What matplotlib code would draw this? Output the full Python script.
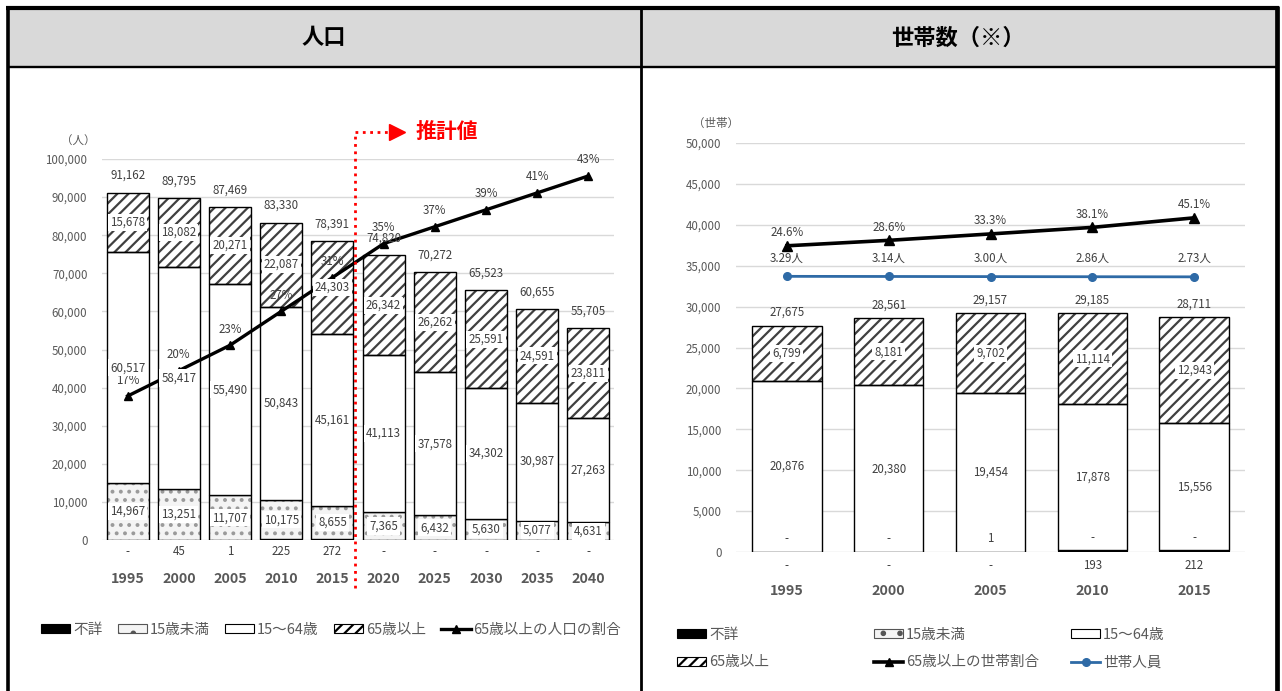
import numpy as np
import matplotlib.pyplot as plt
import matplotlib.patches as mpatches
import matplotlib.transforms as mtransforms
from matplotlib.lines import Line2D

plt.rcParams['font.family'] = ['Noto Sans CJK JP', 'DejaVu Sans']
plt.rcParams['hatch.linewidth'] = 1.6

W, H = 1282, 691

# 人口
pop_years = ['1995', '2000', '2005', '2010', '2015', '2020', '2025', '2030', '2035', '2040']
pop_unknown = [0, 45, 1, 225, 272, 0, 0, 0, 0, 0]
pop_under15 = [14967, 13251, 11707, 10175, 8655, 7365, 6432, 5630, 5077, 4631]
pop_15_64 = [60517, 58417, 55490, 50843, 45161, 41113, 37578, 34302, 30987, 27263]
pop_65over = [15678, 18082, 20271, 22087, 24303, 26342, 26262, 25591, 24591, 23811]
pop_ratio = [17, 20, 23, 27, 31, 35, 37, 39, 41, 43]

# 世帯数
hh_years = ['1995', '2000', '2005', '2010', '2015']
hh_unknown = [0, 0, 0, 193, 212]
hh_under15 = [0, 0, 1, 0, 0]
hh_15_64 = [20876, 20380, 19454, 17878, 15556]
hh_65over = [6799, 8181, 9702, 11114, 12943]
hh_ratio = [24.6, 28.6, 33.3, 38.1, 45.1]
hh_persons = [3.29, 3.14, 3.00, 2.86, 2.73]

GRAY = '#595959'
LBL = '#404040'
BLUE = '#2e6aa6'
UNDER_FC = '#f4f4f4'
DOTS = '#9a9a9a'


def fmt(v):
    return f'{v:,}' if v else '-'


def px_box(left, top, right, bottom):
    return [left / W, 1 - bottom / H, (right - left) / W, (bottom - top) / H]


fig = plt.figure(figsize=(W / 100, H / 100), dpi=100)

# table frame and header band
fig.add_artist(mpatches.Rectangle((8 / W, 1 - 67 / H), 1268 / W, 58 / H,
                                  transform=fig.transFigure, facecolor='#d9d9d9',
                                  edgecolor='none', zorder=0))
for xs, ys, lw in [((6, 1279), (8, 8), 3.0),
                   ((7.8, 7.8), (6, 691), 2.6),
                   ((1276.5, 1276.5), (6, 691), 3.4),
                   ((640.5, 640.5), (8, 691), 2.0),
                   ((8, 1276), (67.3, 67.3), 1.7)]:
    fig.add_artist(Line2D([x / W for x in xs], [1 - y / H for y in ys],
                          transform=fig.transFigure, color='black', lw=lw,
                          solid_capstyle='butt'))
fig.text(324 / W, 1 - 38 / H, '人口', ha='center', va='center', fontsize=16,
         fontweight='bold', color='black')
fig.text(958 / W, 1 - 38 / H, '世帯数（※）', ha='center', va='center', fontsize=16,
         fontweight='bold', color='black')


def style_axes(ax, ymax, step, years):
    ax.set_ylim(0, ymax)
    ax.set_xlim(-0.5, len(years) - 0.5)
    ax.set_yticks(np.arange(0, ymax + 1, step))
    ax.set_yticklabels([f'{int(v):,}' for v in np.arange(0, ymax + 1, step)])
    ax.set_xticks(np.arange(len(years)))
    ax.set_xticklabels(years, fontweight='bold', fontsize=10.3, color=GRAY)
    ax.tick_params(axis='y', length=0, labelsize=8.3, labelcolor=GRAY, pad=10.5)
    ax.tick_params(axis='x', length=0, pad=23)
    for s in ax.spines.values():
        s.set_visible(False)
    ax.yaxis.grid(True, color='#d9d9d9', lw=1.0)
    ax.set_axisbelow(True)


def draw_stack(ax, x, w, unknown, under15, mid, old):
    unknown = np.array(unknown)
    under15 = np.array(under15)
    mid = np.array(mid)
    old = np.array(old)
    ax.bar(x, unknown, w, color='black', edgecolor='black', lw=0.8, zorder=2)
    base = unknown.copy()
    ax.bar(x, under15, w, bottom=base, facecolor=UNDER_FC, edgecolor=DOTS,
           hatch='..', lw=0, zorder=2)
    ax.bar(x, under15, w, bottom=base, fill=False, edgecolor='black', lw=1.0, zorder=3)
    base = base + under15
    ax.bar(x, mid, w, bottom=base, facecolor='white', edgecolor='black', lw=1.0, zorder=3)
    base = base + mid
    ax.bar(x, old, w, bottom=base, facecolor='white', edgecolor='#404040',
           hatch='///', lw=0, zorder=2)
    ax.bar(x, old, w, bottom=base, fill=False, edgecolor='black', lw=1.0, zorder=3)


box = dict(boxstyle='square,pad=0.18', fc='white', ec='none')

# ---- 人口 ----
ax1 = fig.add_axes(px_box(102, 159, 614, 540))
x1 = np.arange(len(pop_years))
style_axes(ax1, 100000, 10000, pop_years)
draw_stack(ax1, x1, 0.82, pop_unknown, pop_under15, pop_15_64, pop_65over)

ax1b = ax1.twinx()
ax1b.set_ylim(0, 45)
ax1b.set_axis_off()
ax1b.plot(x1, pop_ratio, color='black', lw=2.4, marker='^', ms=6, zorder=2)
for xi, r in zip(x1, pop_ratio):
    ax1b.annotate(f'{r}%', (xi, r), xytext=(0, 11.5), textcoords='offset points',
                  ha='center', va='center', fontsize=8.3, color=LBL, zorder=3)

t1 = ax1.transData
for i in x1:
    u, a, m, o = pop_unknown[i], pop_under15[i], pop_15_64[i], pop_65over[i]
    ax1b.text(i, u + a / 2, fmt(a), transform=t1, ha='center', va='center',
              fontsize=8.3, color=LBL, bbox=box, zorder=5)
    ax1b.text(i, u + a + m / 2, fmt(m), transform=t1, ha='center', va='center',
              fontsize=8.3, color=LBL, bbox=box, zorder=5)
    ax1b.text(i, u + a + m + o / 2, fmt(o), transform=t1, ha='center', va='center',
              fontsize=8.3, color=LBL, bbox=box, zorder=5)
    total = u + a + m + o
    ax1b.annotate(fmt(total), (i, total), xycoords=t1, xytext=(0, 12.3),
                  textcoords='offset points', ha='center', va='center',
                  fontsize=8.3, color=LBL, zorder=5)
    ax1b.annotate(fmt(u), (i, 0), xycoords=t1, xytext=(0, -8),
                  textcoords='offset points', ha='center', va='center',
                  fontsize=8.3, color=LBL, zorder=5)

# 推計値 marker between 2015 and 2020
blend = mtransforms.blended_transform_factory(ax1.transData, ax1.transAxes)
ax1b.plot([4.45, 4.45], [-0.126, 1.071], transform=blend, color='red', lw=2.0,
          ls=':', clip_on=False, zorder=6)
ax1b.plot([4.45, 5.1], [1.071, 1.071], transform=blend, color='red', lw=2.0,
          ls=':', clip_on=False, zorder=6)
ax1b.plot([5.27], [1.071], transform=blend, color='red', marker='>', ms=11,
          ls='none', clip_on=False, zorder=6)
ax1b.text(5.62, 1.071, '推計値', transform=blend, ha='left', va='center',
          fontsize=15, fontweight='bold', color='red', zorder=6)

fig.text(78 / W, 1 - 141 / H, '（人）', ha='center', va='center', fontsize=8.3, color=GRAY)

# ---- 世帯数 ----
ax2 = fig.add_axes(px_box(736, 143, 1245, 552))
x2 = np.arange(len(hh_years))
style_axes(ax2, 50000, 5000, hh_years)
draw_stack(ax2, x2, 0.68, hh_unknown, hh_under15, hh_15_64, hh_65over)

ax2b = ax2.twinx()
ax2b.set_ylim(-200, 100)
ax2b.set_axis_off()
ax2b.plot(x2, hh_ratio, color='black', lw=2.6, marker='^', ms=6.5, zorder=2)
for xi, r in zip(x2, hh_ratio):
    ax2b.annotate(f'{r:.1f}%', (xi, r), xytext=(0, 9.5), textcoords='offset points',
                  ha='center', va='center', fontsize=8.3, color=LBL, zorder=3)

ax2c = ax2.twinx()
ax2c.set_ylim(-300, 150)
ax2c.set_axis_off()
ax2c.plot(x2, hh_persons, color=BLUE, lw=2.0, marker='o', ms=5.5, zorder=2)
for xi, p in zip(x2, hh_persons):
    ax2c.annotate(f'{p:.2f}人', (xi, p), xytext=(0, 13), textcoords='offset points',
                  ha='center', va='center', fontsize=8.3, color=LBL, zorder=3)

t2 = ax2.transData
for i in x2:
    u, a, m, o = hh_unknown[i], hh_under15[i], hh_15_64[i], hh_65over[i]
    ax2c.annotate(fmt(a), (i, u), xycoords=t2, xytext=(0, 9.5),
                  textcoords='offset points', ha='center', va='center',
                  fontsize=8.3, color=LBL, zorder=5)
    ax2c.text(i, u + a + m / 2, fmt(m), transform=t2, ha='center', va='center',
              fontsize=8.3, color=LBL, zorder=5)
    ax2c.text(i, u + a + m + o / 2, fmt(o), transform=t2, ha='center', va='center',
              fontsize=8.3, color=LBL, bbox=box, zorder=5)
    total = u + a + m + o
    ax2c.annotate(fmt(total), (i, total), xycoords=t2, xytext=(0, 9.5),
                  textcoords='offset points', ha='center', va='center',
                  fontsize=8.3, color=LBL, zorder=5)
    ax2c.annotate(fmt(u), (i, 0), xycoords=t2, xytext=(0, -9.5),
                  textcoords='offset points', ha='center', va='center',
                  fontsize=8.3, color=LBL, zorder=5)

fig.text(716 / W, 1 - 123 / H, '（世帯）', ha='center', va='center', fontsize=8.3, color=GRAY)

# ---- legends ----
h_unknown = mpatches.Patch(facecolor='black', edgecolor='black', lw=0.8)
h_under = mpatches.Patch(facecolor=UNDER_FC, edgecolor='#555555', hatch='.', lw=0.8)
h_mid = mpatches.Patch(facecolor='white', edgecolor='black', lw=0.8)
h_old = mpatches.Patch(facecolor='white', edgecolor='black', hatch='///', lw=0.8)
h_pop_ratio = Line2D([], [], color='black', lw=2.4, marker='^', ms=6)
h_hh_ratio = Line2D([], [], color='black', lw=2.6, marker='^', ms=6)
h_persons = Line2D([], [], color=BLUE, lw=2.0, marker='o', ms=5.5)

leg_kw = dict(frameon=False, fontsize=10.5, handlelength=2.0, handleheight=0.6,
              handletextpad=0.2, borderpad=0, borderaxespad=0, labelcolor=GRAY)

fig.legend([h_unknown, h_under, h_mid, h_old, h_pop_ratio],
           ['不詳', '15歳未満', '15～64歳', '65歳以上', '65歳以上の人口の割合'],
           loc='center left', bbox_to_anchor=(41 / W, 1 - 630 / H), ncol=5,
           columnspacing=1.05, **leg_kw)

for xpos, hs, labels in [(677, [h_unknown, h_old], ['不詳', '65歳以上']),
                         (874, [h_under, h_hh_ratio], ['15歳未満', '65歳以上の世帯割合']),
                         (1071, [h_mid, h_persons], ['15～64歳', '世帯人員'])]:
    fig.legend(hs, labels, loc='center left', bbox_to_anchor=(xpos / W, 1 - 648.5 / H),
               ncol=1, labelspacing=0.95, **leg_kw)

fig.savefig('out.png', dpi=100, facecolor='white')
